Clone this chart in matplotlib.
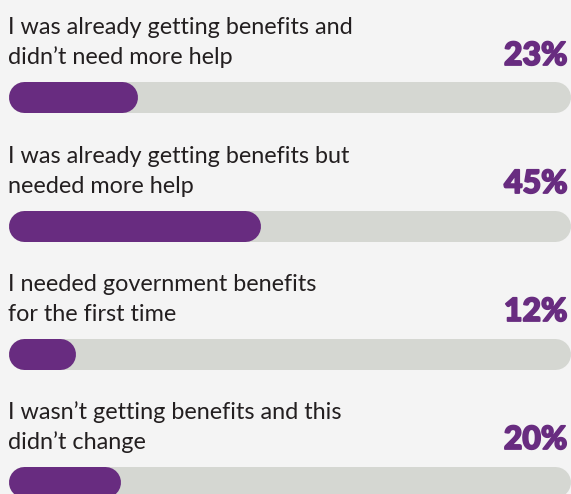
import matplotlib
matplotlib.use("Agg")
import matplotlib.pyplot as plt
import matplotlib.patheffects as pe

labels = [
    "I was already getting benefits and\ndidn\u2019t need more help",
    "I was already getting benefits but\nneeded more help",
    "I needed government benefits\nfor the first time",
    "I wasn\u2019t getting benefits and this\ndidn\u2019t change",
]
values = [23, 45, 12, 20]
pct_labels = ["23%", "45%", "12%", "20%"]

BG = "#f4f4f4"
TRACK = "#d5d7d2"
PURPLE = "#682c80"
TEXT = "#231f20"

W, H = 571, 494
fig = plt.figure(figsize=(W / 100, H / 100), dpi=100, facecolor=BG)
ax = fig.add_axes([0, 0, 1, 1])
ax.set_facecolor(BG)
ax.axis("off")

# x: percent scale, 0% at pixel 8, 100% at pixel 570
px_per_unit = 5.62
x0_px = 8
ax.set_xlim(-x0_px / px_per_unit, 100 + (W - 570) / px_per_unit)
ax.set_ylim(H, 0)

bar_h_px = 31
lw_pt = bar_h_px * 72 / 100
r = (bar_h_px / 2) / px_per_unit

row_step = 128
for i, (lab, v, pl) in enumerate(zip(labels, values, pct_labels)):
    off = i * row_step
    yb = 97.5 + off
    ax.plot([r, 100 - r], [yb, yb], color=TRACK, lw=lw_pt,
            solid_capstyle="round", zorder=1)
    ax.plot([r, max(v - r, r)], [yb, yb], color=PURPLE, lw=lw_pt,
            solid_capstyle="round", zorder=2)
    l1, l2 = lab.split("\n")
    ax.text(0, 34.5 + off, l1, ha="left", va="baseline", fontsize=16.8,
            family="Lato", color=TEXT)
    ax.text(0, 64.5 + off, l2, ha="left", va="baseline", fontsize=16.8,
            family="Lato", color=TEXT)
    ax.text(100 - 0.45, 65 + off, pl, ha="right", va="baseline", fontsize=23,
            family="Lato", weight="black", color=PURPLE,
            path_effects=[pe.withStroke(linewidth=1.3, foreground=PURPLE)])

fig.savefig("out.png", dpi=100, facecolor=BG)
